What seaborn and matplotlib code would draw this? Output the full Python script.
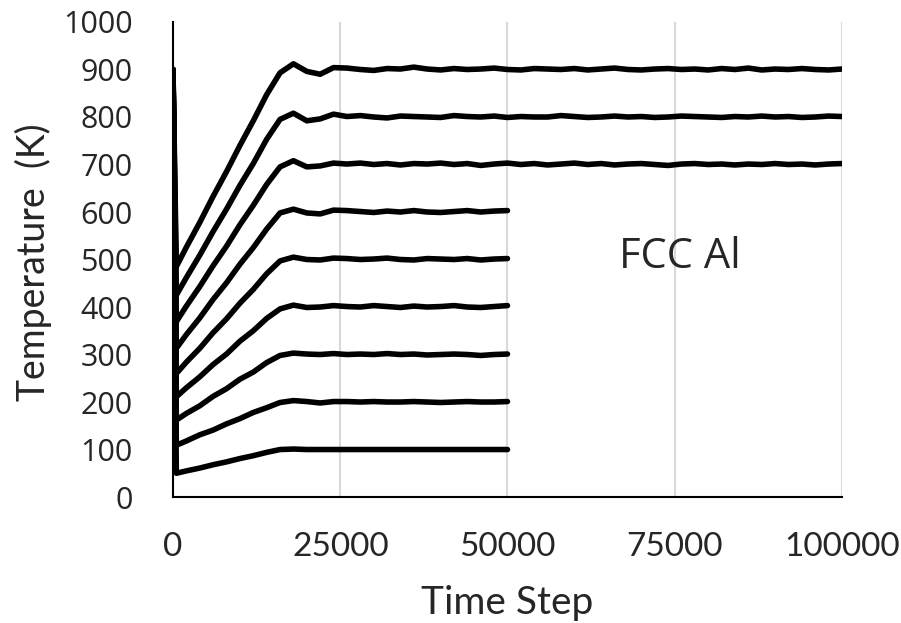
import numpy as np
import pandas as pd
import matplotlib
matplotlib.use("Agg")
import matplotlib.pyplot as plt
import seaborn as sns

# time steps for the two run lengths
steps_short = [0, 500] + list(range(2000, 50001, 2000))
steps_long = [0, 500] + list(range(2000, 100001, 2000))

# temperature traces (K)
T100 = [900, 50, 55, 61, 68, 74, 81, 87, 94, 100, 101, 100, 100, 100,
        100, 100, 100, 100, 100, 100, 100, 100, 100, 100, 100, 100, 100]
T200 = [900, 109, 118, 131, 141, 154, 165, 178, 188, 199, 203, 201, 198, 201,
        201, 200, 201, 200, 200, 201, 200, 199, 200, 201, 200, 200, 201]
T300 = [900, 162, 176, 192, 212, 228, 248, 263, 283, 298, 303, 301, 300, 302,
        300, 301, 300, 302, 300, 301, 299, 300, 301, 300, 298, 300, 301]
T400 = [900, 211, 230, 253, 279, 301, 328, 350, 376, 396, 404, 399, 400, 403,
        401, 400, 403, 401, 399, 402, 400, 401, 403, 400, 399, 401, 403]
T500 = [900, 260, 284, 313, 346, 375, 408, 437, 470, 497, 505, 500, 499, 503,
        502, 500, 501, 503, 500, 499, 502, 501, 500, 502, 499, 501, 502]
T600 = [900, 313, 342, 377, 416, 451, 490, 525, 564, 598, 606, 598, 596, 604,
        603, 601, 599, 602, 600, 603, 600, 599, 601, 603, 600, 602, 603]
T700 = [900, 369, 402, 443, 487, 528, 573, 614, 658, 695, 708, 695, 697, 703,
        701, 703, 700, 702, 699, 702, 701, 703, 700, 702,
        698, 701, 703, 700, 702, 699, 701, 703, 700, 702,
        699, 701, 702, 700, 698, 701, 702, 700, 701, 699,
        701, 700, 702, 700, 701, 699, 701, 702]
T800 = [900, 425, 462, 509, 559, 606, 656, 702, 753, 795, 808, 792, 796, 806,
        801, 803, 800, 798, 802, 801, 800, 799, 803, 801,
        800, 802, 799, 801, 800, 800, 803, 801, 799, 800,
        802, 800, 801, 799, 800, 802, 801, 800, 799, 801,
        800, 802, 800, 801, 799, 800, 802, 801]
T900 = [900, 485, 526, 578, 633, 685, 740, 792, 847, 893, 912, 896, 890, 904,
        903, 900, 898, 902, 901, 905, 901, 899, 902, 900,
        901, 903, 900, 899, 902, 901, 900, 902, 899, 901,
        903, 900, 899, 901, 902, 900, 901, 899, 902, 900,
        903, 899, 901, 900, 902, 900, 899, 901]

short_runs = {"100": T100, "200": T200, "300": T300, "400": T400, "500": T500, "600": T600}
long_runs = {"700": T700, "800": T800, "900": T900}

frames = []
for name, vals in short_runs.items():
    frames.append(pd.DataFrame({"step": steps_short, "temp": vals, "run": name}))
for name, vals in long_runs.items():
    frames.append(pd.DataFrame({"step": steps_long, "temp": vals, "run": name}))
df = pd.concat(frames, ignore_index=True)

sns.set_style("white")
plt.rcParams["font.family"] = ["Lato", "DejaVu Sans"]

fig = plt.figure(figsize=(9.01, 6.23), dpi=100)
ax = fig.add_axes([0.192, 0.2022, 0.7425, 0.7625])

sns.lineplot(data=df, x="step", y="temp", units="run", estimator=None,
             color="black", linewidth=4.0, ax=ax, legend=False,
             solid_capstyle="round", solid_joinstyle="round", sort=False)

ax.set_xlim(0, 100000)
ax.set_ylim(0, 1000)
ax.set_xticks([0, 25000, 50000, 75000, 100000])
ax.set_yticks(range(0, 1001, 100))
ax.xaxis.grid(True, color="#d9d9d9", linewidth=1.5)
ax.yaxis.grid(False)
ax.set_axisbelow(True)

for side in ["top", "right"]:
    ax.spines[side].set_visible(False)
for side in ["left", "bottom"]:
    ax.spines[side].set_color("black")
    ax.spines[side].set_linewidth(1.5)

ax.tick_params(axis="x", length=0, pad=25, labelsize=24)
ax.tick_params(axis="y", length=0, pad=29, labelsize=22)
for lab in ax.get_yticklabels():
    lab.set_fontfamily("Open Sans")

ax.set_xlabel("Time Step", fontsize=28)
ax.set_ylabel("Temperature  (K)", fontsize=27)
ax.xaxis.set_label_coords(0.5, -0.185)
ax.yaxis.set_label_coords(-0.181, 0.494)

ax.text(75800, 482, "FCC Al", fontsize=30, family="Open Sans",
        ha="center", va="baseline")

fig.savefig("out.png", dpi=100)
